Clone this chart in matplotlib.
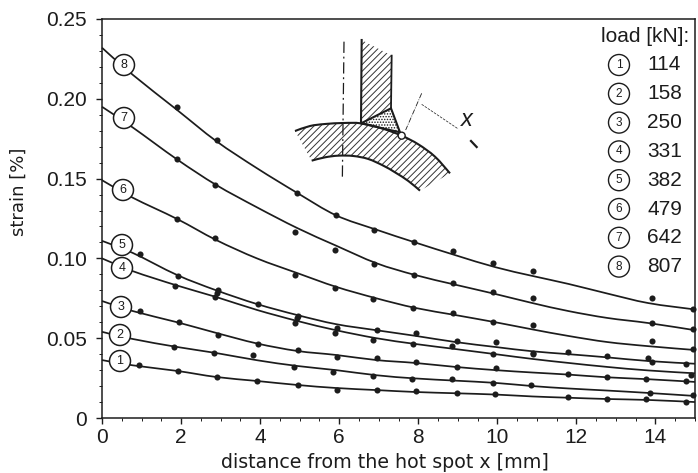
import numpy as np
import matplotlib
matplotlib.use("Agg")
import matplotlib.pyplot as plt
from matplotlib.patches import Polygon, Circle, PathPatch
from matplotlib.path import Path
from matplotlib.transforms import Affine2D

plt.rcParams["font.family"] = ["Liberation Sans", "DejaVu Sans"]
plt.rcParams["hatch.linewidth"] = 0.7
INK = "#1c1c1c"

# fitted curves at these distances
curve_x = [0, 0.78, 1.9, 2.89, 3.92, 4.94, 5.92, 6.94, 7.92, 8.94, 9.95, 10.89, 11.8, 12.78, 13.82, 15.0]
curve_1 = [.0363, .033, .0295, .0257, .0232, .0207, .0188, .0175, .0163, .0155, .0147, .0135, .0127, .0119, .0113, .010]
curve_2 = [.054, .0495, .0445, .0407, .0362, .0326, .030, .0268, .0248, .0234, .022, .020, .0185, .0172, .0157, .0138]
curve_3 = [.0733, .067, .060, .0533, .0467, .042, .0395, .0363, .0345, .032, .030, .0285, .0272, .0255, .0243, .0226]
curve_4 = [.100, .092, .083, .0758, .0677, .0608, .055, .050, .0464, .0432, .040, .037, .0345, .032, .0298, .028]
curve_5 = [.111, .1034, .0896, .080, .0714, .0645, .0588, .055, .0515, .0476, .0445, .0418, .040, .038, .0357, .034]
curve_6 = [.149, .138, .1247, .1115, .100, .0908, .0822, .075, .069, .0645, .060, .0555, .0514, .0476, .045, .0426]
curve_7 = [.195, .182, .162, .146, .132, .119, .108, .097, .0896, .0835, .0777, .072, .067, .0627, .0595, .055]
curve_8 = [.232, .215, .193, .1735, .1565, .141, .127, .118, .110, .102, .0945, .089, .084, .078, .072, .068]
curves = [curve_1, curve_2, curve_3, curve_4, curve_5, curve_6, curve_7, curve_8]

# measured points
pts_1_x = [.94, 1.92, 2.91, 3.92, 4.96, 5.95, 6.96, 7.95, 8.99, 9.95, 11.8, 12.78, 13.77, 14.78]
pts_1_y = [.033, .0295, .0257, .0232, .0207, .0175, .0175, .017, .0157, .015, .0132, .0119, .0119, .010]
pts_2_x = [1.82, 2.84, 3.82, 4.86, 5.85, 6.86, 7.85, 8.86, 9.9, 10.86, 13.87, 14.96]
pts_2_y = [.0445, .0407, .0395, .032, .0288, .0263, .0244, .0244, .022, .0207, .0157, .0144]
pts_3_x = [.96, 1.95, 2.94, 3.95, 4.96, 5.95, 6.96, 7.95, 8.99, 9.97, 11.8, 12.78, 13.77, 14.78]
pts_3_y = [.067, .060, .052, .0464, .0426, .038, .0376, .035, .032, .0313, .0276, .0257, .0244, .023]
pts_4_x = [1.85, 2.86, 4.89, 5.9, 6.86, 7.87, 8.86, 9.9, 10.89, 14.89]
pts_4_y = [.083, .0758, .0595, .0533, .049, .0464, .045, .040, .040, .027]
pts_5_x = [.96, 1.92, 2.91, 2.94, 3.95, 4.96, 4.94, 5.95, 6.96, 7.95, 8.99, 9.97, 10.89, 11.8, 12.78, 13.8, 13.9, 14.78]
pts_5_y = [.1028, .089, .0785, .080, .0714, .064, .0625, .0564, .055, .0533, .048, .0476, .0407, .0414, .0388, .0376, .035, .034]
pts_6_x = [1.9, 2.86, 4.89, 5.9, 6.86, 7.87, 8.89, 9.9, 10.89, 13.9, 14.94]
pts_6_y = [.1247, .1128, .0896, .0815, .0746, .069, .0658, .060, .0583, .048, .043]
pts_7_x = [1.9, 2.86, 4.89, 5.9, 6.89, 7.9, 8.89, 9.9, 10.89, 13.9, 14.94]
pts_7_y = [.162, .146, .1165, .105, .0965, .0896, .0846, .079, .075, .0595, .056]
pts_8_x = [1.9, 2.91, 4.94, 5.92, 6.89, 7.9, 8.89, 9.9, 10.89, 13.9, 14.94]
pts_8_y = [.195, .174, .141, .127, .118, .110, .1046, .097, .092, .075, .068]
points = [(pts_1_x, pts_1_y), (pts_2_x, pts_2_y), (pts_3_x, pts_3_y), (pts_4_x, pts_4_y),
          (pts_5_x, pts_5_y), (pts_6_x, pts_6_y), (pts_7_x, pts_7_y), (pts_8_x, pts_8_y)]

curve_ids = ["1", "2", "3", "4", "5", "6", "7", "8"]
loads = ["114", "158", "250", "331", "382", "479", "642", "807"]
x_ticks = [0, 2, 4, 6, 8, 10, 12, 14]
y_ticks = [0, 0.05, 0.10, 0.15, 0.20, 0.25]
y_tick_labels = ["0", "0.05", "0.10", "0.15", "0.20", "0.25"]


def smooth_path(xs, ys):
    # bezier through the read values, no extra data points
    p = np.column_stack([xs, ys])
    verts = [p[0]]
    codes = [Path.MOVETO]
    for i in range(len(p) - 1):
        a = p[max(i - 1, 0)]
        d = p[min(i + 2, len(p) - 1)]
        verts += [p[i] + (p[i + 1] - a) / 6, p[i + 1] - (d - p[i]) / 6, p[i + 1]]
        codes += [Path.CURVE4] * 3
    return Path(verts, codes)


W, H = 698, 473
fig = plt.figure(figsize=(W / 100, H / 100), dpi=100)
ax = fig.add_axes([102 / W, (H - 418) / H, 593 / W, 399 / H])
ax.set_xlim(0, 15)
ax.set_ylim(0, 0.25)

for c in curves:
    ax.add_patch(PathPatch(smooth_path(curve_x, c), fill=False, ec=INK, lw=1.25, clip_on=False, zorder=2))
for px, py in points:
    ax.plot(px, py, "o", color=INK, ms=4.4, mew=0, clip_on=False, zorder=3)

# pixel coordinates of the whole picture, y downwards
px_tr = Affine2D().scale(1, -1).translate(0, H).scale(1 / W, 1 / H) + fig.transFigure

# numbered circles on the curves
label_px = [(120, 361), (120, 335), (121, 307), (122, 268), (122, 245), (123, 190), (124, 118), (124, 65)]
for (lx, ly), cid in zip(label_px, curve_ids):
    fig.add_artist(Circle((lx, ly), 10.5, transform=px_tr, fc="white", ec=INK, lw=1.1, zorder=5))
    fig.text(lx / W, 1 - ly / H, cid, fontsize=9, color=INK, ha="center", va="center", zorder=6)

# legend
fig.text(601 / W, 1 - 37 / H, "load [kN]:", fontsize=15, color=INK, ha="left", va="center")
for i, (cid, load) in enumerate(zip(curve_ids, loads)):
    ly = 65 + i * 28.8
    fig.add_artist(Circle((619, ly), 10.5, transform=px_tr, fc="white", ec=INK, lw=1.0, zorder=5))
    fig.text(619 / W, 1 - ly / H, cid, fontsize=8.5, color=INK, ha="center", va="center", zorder=6)
    fig.text(647 / W, 1 - ly / H, load, fontsize=15, color=INK, ha="left", va="center")


# inset sketch, points taken from a 3x crop starting at (285, 25)
def sk(pts):
    return [(285 + a / 3, 25 + b / 3) for a, b in pts]


def sketch_curve(pts, **kw):
    xy = np.array(sk(pts))
    fig.add_artist(PathPatch(smooth_path(xy[:, 0], xy[:, 1]), transform=px_tr, fill=False, ec=INK, **kw))


def sketch_line(pts, **kw):
    xy = np.array(sk(pts))
    fig.add_artist(plt.Line2D(xy[:, 0], xy[:, 1], transform=px_tr, color=INK, **kw))


top_arc = [(30, 318), (75, 303), (120, 297), (175, 294), (228, 295), (290, 310), (350, 332), (400, 358), (450, 395), (495, 445)]
low_arc = [(80, 407), (120, 397), (160, 392), (205, 393), (250, 402), (295, 422), (330, 442), (370, 468), (405, 497)]
fig.add_artist(Polygon(sk(top_arc + low_arc[::-1]), closed=True, transform=px_tr, fc="white", ec="#333333",
                       lw=0, hatch="/////", zorder=1))
fig.add_artist(Polygon(sk([(230, 45), (320, 92), (318, 250), (228, 295)]), closed=True, transform=px_tr, fc="white",
                       ec="#333333", lw=0, hatch="/////", zorder=1))
fig.add_artist(Polygon(sk([(228, 295), (318, 250), (345, 322)]), closed=True, transform=px_tr, fc="white", ec=INK,
                       lw=1.5, hatch="......", zorder=2))

sketch_curve(top_arc, lw=1.5, zorder=3)
sketch_curve(low_arc, lw=1.5, zorder=3)
sketch_line([(230, 45), (228, 295)], lw=1.5, zorder=3)
sketch_line([(320, 92), (318, 250)], lw=1.3, zorder=3)
sketch_line([(177, 50), (172, 465)], lw=0.9, ls=(0, (9, 3, 1.5, 3)), zorder=3)
sketch_line([(410, 205), (362, 315)], lw=0.6, ls="-.", zorder=3)
sketch_line([(410, 238), (520, 312)], lw=0.5, ls="--", zorder=3)
sketch_line([(558, 348), (575, 366)], lw=1.6, zorder=3)
hot_x, hot_y = sk([(350, 332)])[0]
fig.add_artist(Circle((hot_x, hot_y), 3.5, transform=px_tr, fc="white", ec=INK, lw=1.0, zorder=4))
fig.text(467 / W, 1 - 120 / H, "x", fontsize=17, style="italic", color=INK, ha="center", va="center")

# axes
for s in ax.spines.values():
    s.set_linewidth(1.1)
    s.set_color(INK)
ax.set_xticks(x_ticks)
ax.set_xticks(np.arange(0, 15.1, 0.5), minor=True)
ax.set_yticks(y_ticks)
ax.set_yticklabels(y_tick_labels)
ax.set_yticks(np.arange(0, 0.251, 0.01), minor=True)
ax.tick_params(axis="both", which="major", labelsize=15, colors=INK, length=4, width=1)
ax.tick_params(axis="both", which="minor", length=2.5, width=0.7, colors=INK)
ax.tick_params(axis="x", which="major", pad=3)
ax.tick_params(axis="y", which="major", pad=7)

fig.text(385 / W, 1 - 462 / H, "distance from the hot spot x [mm]", fontsize=13.7,
         family="DejaVu Sans", color=INK, ha="center", va="center")
fig.text(19 / W, 1 - 192 / H, "strain [%]", fontsize=13, family="DejaVu Sans",
         color=INK, rotation=90, ha="center", va="center")

fig.savefig("out.png", dpi=100)
